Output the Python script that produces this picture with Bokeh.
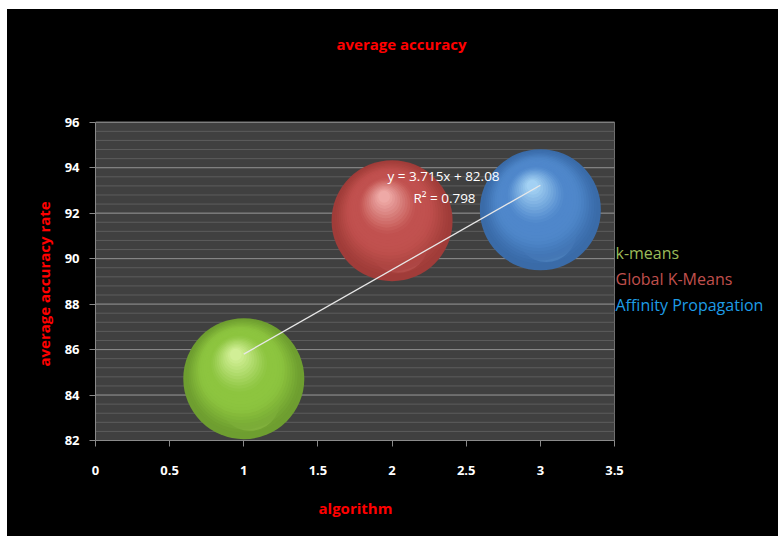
import numpy as np
from bokeh.plotting import figure
from bokeh.models import FixedTicker, Label, CustomJSTickFormatter, Spacer, ColumnDataSource, Title
from bokeh.layouts import row, column
from bokeh.transform import dodge
from bokeh.embed import file_html
from bokeh.resources import INLINE

# ---- data ----
algorithms = ["k-means", "Global K-Means", "Affinity Propagation"]
algorithm_x = [1, 2, 3]
avg_accuracy = [84.72, 91.67, 92.15]
x_ticks = [0, 0.5, 1, 1.5, 2, 2.5, 3, 3.5]
y_ticks = [82, 84, 86, 88, 90, 92, 94, 96]

# ---- styles ----
sphere_colors = [
    # edge, base, highlight
    ("#6E9E30", "#8DC540", "#D6F29C"),
    ("#A03C39", "#C2524F", "#F0AFAC"),
    ("#3A6BA8", "#4F88CC", "#A9D6F6"),
]
legend_colors = ["#9BBB59", "#C0504D", "#1E9CE6"]
FONT = "Open Sans"

W, H = 771, 527
LEFT, BOTTOM = 88, 95
FRAME_W, FRAME_H = W - LEFT, H - BOTTOM     # frame extends right and up (title + legend)
AREA_W, AREA_H = 519.0, 319.0               # pixel size of the grey plotting area
x_lo, x_hi = x_ticks[0], x_ticks[-1]
y_lo, y_hi = y_ticks[0], y_ticks[-1]
x_end = x_lo + (x_hi - x_lo) * FRAME_W / AREA_W
y_end = y_lo + (y_hi - y_lo) * FRAME_H / AREA_H

p = figure(width=W, height=H, x_range=(x_lo, x_end), y_range=(y_lo, y_end),
           output_backend="svg", toolbar_location=None,
           background_fill_color="black", border_fill_color="black",
           outline_line_color=None,
           min_border_left=LEFT, min_border_right=0, min_border_top=0,
           min_border_bottom=BOTTOM, styles={"background-color": "black"})

# axes
p.xaxis.ticker = FixedTicker(ticks=x_ticks)
p.yaxis.ticker = FixedTicker(ticks=y_ticks)
p.xaxis.bounds = (x_lo, x_hi)
p.yaxis.bounds = (y_lo, y_hi)
p.xaxis.formatter = CustomJSTickFormatter(code="return tick.toString()")
for ax in (p.xaxis[0], p.yaxis[0]):
    ax.axis_line_color = "#8a8a8a"
    ax.major_tick_line_color = "#8a8a8a"
    ax.major_tick_in = 0
    ax.major_tick_out = 6
    ax.minor_tick_line_color = None
    ax.major_label_text_color = "white"
    ax.major_label_text_font = FONT
    ax.major_label_text_font_style = "bold"
    ax.major_label_text_font_size = "13px"
p.xaxis.major_label_standoff = 19
p.yaxis.major_label_standoff = 10
p.grid.visible = False

# axis titles (placed along the grey plotting area, not the whole frame)
p.add_layout(Title(text="algorithm", align="left", offset=223, standoff=37,
                   text_color="red", text_font=FONT, text_font_style="bold",
                   text_font_size="15px"), "below")
p.add_layout(Title(text="average accuracy rate", align="left", offset=74, standoff=16,
                   text_color="red", text_font=FONT, text_font_style="bold",
                   text_font_size="15px"), "left")

# plot area + horizontal gridlines
p.quad(left=[x_lo], right=[x_hi], bottom=[y_lo], top=[y_hi],
       fill_color="#404040", line_color="#707070")
minor = [y_lo + 0.4 * k for k in range(1, 35)]
p.segment(x0=[x_lo] * len(minor), x1=[x_hi] * len(minor), y0=minor, y1=minor,
          line_color="#5c5c5c", line_width=1)
p.segment(x0=[x_lo] * len(y_ticks), x1=[x_hi] * len(y_ticks), y0=y_ticks, y1=y_ticks,
          line_color="#8c8c8c", line_width=1)

# ---- spheres ----
def mix(c1, c2, t):
    a = [int(c1[i:i + 2], 16) for i in (1, 3, 5)]
    b = [int(c2[i:i + 2], 16) for i in (1, 3, 5)]
    return "#%02x%02x%02x" % tuple(int(round(a[k] + (b[k] - a[k]) * t)) for k in range(3))

D = 121
px_x = AREA_W / (x_hi - x_lo)
px_y = AREA_H / (y_hi - y_lo)
for i in range(len(algorithms)):
    edge, base, hi = sphere_colors[i]
    src = ColumnDataSource(dict(x=[algorithm_x[i]], y=[avg_accuracy[i]]))
    p.scatter(x="x", y="y", source=src, size=D, fill_color=edge, line_color=None)
    # soft reflection near the bottom
    p.scatter(x=dodge("x", 6 / px_x), y=dodge("y", -22 / px_y), source=src, size=D * 0.5,
              fill_color=mix(base, hi, 0.25), line_color=None, fill_alpha=0.7)
    N = 24
    for k in range(N):
        t = (k + 1) / N
        size = (D - 3) * (1 - 0.9 * t)
        ox = -8 * t / px_x
        oy = (2 + 22 * t) / px_y
        if t < 0.3:
            col = mix(edge, base, t / 0.3)
            alpha = 0.55
        elif t < 0.55:
            col = base
            alpha = 0.5
        else:
            col = mix(base, hi, (t - 0.55) / 0.45)
            alpha = 0.6
        p.scatter(x=dodge("x", ox), y=dodge("y", oy), source=src, size=size,
                  fill_color=col, line_color=None, fill_alpha=alpha)

# ---- trendline ----
slope, intercept = np.polyfit(algorithm_x, avg_accuracy, 1)
pred = np.polyval([slope, intercept], algorithm_x)
r2 = 1 - np.sum((np.array(avg_accuracy) - pred) ** 2) / np.sum(
    (np.array(avg_accuracy) - np.mean(avg_accuracy)) ** 2)
tx = [min(algorithm_x), max(algorithm_x)]
p.line(tx, [slope * v + intercept for v in tx], line_color="#e8e8e8", line_width=1.3)

p.add_layout(Label(x=348, y=265, x_units="screen", y_units="screen",
                   text="y = %.3fx + %.2f" % (slope, intercept), text_color="white",
                   text_font=FONT, text_font_size="13.5px", text_align="center",
                   text_baseline="middle"))
p.add_layout(Label(x=349, y=243, x_units="screen", y_units="screen",
                   text="R² = %.3f" % r2, text_color="white",
                   text_font=FONT, text_font_size="13.5px", text_align="center",
                   text_baseline="middle"))

# ---- chart title ----
p.add_layout(Label(x=306, y=397, x_units="screen", y_units="screen",
                   text="average accuracy", text_color="red", text_font=FONT,
                   text_font_style="bold", text_font_size="15px", text_align="center",
                   text_baseline="middle"))

# ---- legend (text only) ----
for i, name in enumerate(algorithms):
    p.add_layout(Label(x=520, y=188 - 26 * i, x_units="screen", y_units="screen",
                       text=name, text_color=legend_colors[i], text_font=FONT,
                       text_font_size="16px", text_align="left",
                       text_baseline="middle"))

layout = row(Spacer(width=7, height=H + 9),
             column(Spacer(width=W, height=9), p, spacing=0), spacing=0)
open("out.html", "w").write(file_html(layout, INLINE))
